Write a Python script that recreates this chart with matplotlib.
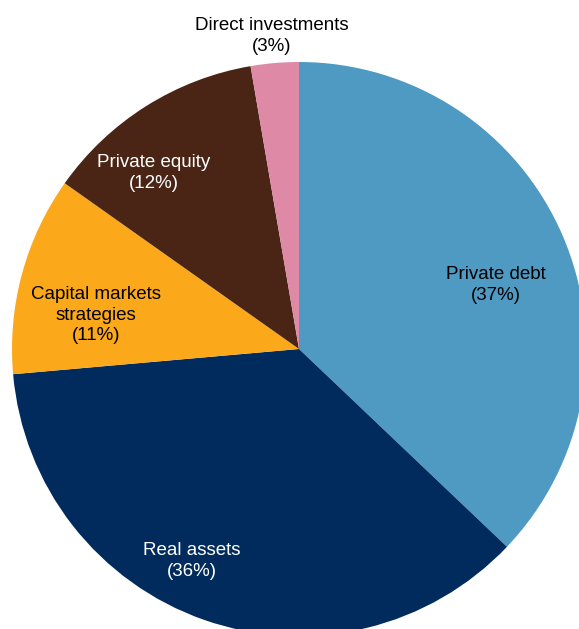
import matplotlib
matplotlib.use("Agg")
import matplotlib.pyplot as plt

categories = ["Private debt", "Real assets", "Capital markets\nstrategies", "Private equity", "Direct investments"]
values = [37.1, 36.5, 11.2, 12.5, 2.7]
pct_labels = ["37%", "36%", "11%", "12%", "3%"]
colors = ["#4F9AC2", "#002B5C", "#FBA91B", "#4A2516", "#DE8AA6"]
text_colors = ["black", "white", "black", "white", "black"]
# label positions in pixel coordinates (x, y from top)
label_px = [(496, 285), (192, 561), (96, 315), (154, 173), (272, 36)]

W, H = 579, 629
cx, cy, R = 299, 349, 287

fig = plt.figure(figsize=(W / 100, H / 100), dpi=100)
ax = fig.add_axes([0, 0, 1, 1])
ax.pie(values, colors=colors, startangle=90, counterclock=False,
       radius=1, center=(0, 0), wedgeprops=dict(linewidth=0))
ax.set_xlim(-cx / R, (W - cx) / R)
ax.set_ylim(-(H - cy) / R, cy / R)
ax.set_aspect("auto")
ax.axis("off")

for cat, pct, tc, (px, py) in zip(categories, pct_labels, text_colors, label_px):
    ax.text((px - cx) / R, (cy - py) / R, f"{cat}\n({pct})", ha="center", va="center",
            color=tc, fontsize=13.5, family="Liberation Sans", linespacing=1.27)

fig.savefig("out.png", dpi=100)
